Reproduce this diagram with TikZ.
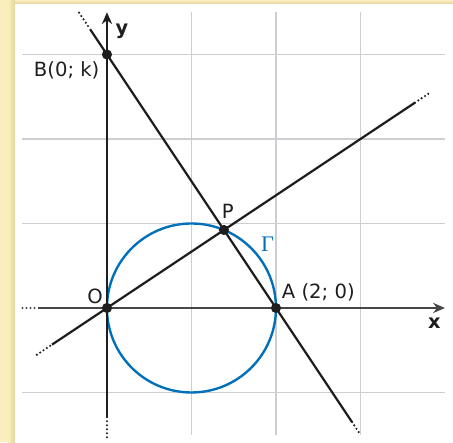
\documentclass[tikz,border=0pt]{standalone}
\usepackage{fontspec}
\setmainfont{DejaVu Sans}
\newfontfamily\greekserif{Liberation Serif}
\usepackage{xcolor}
\definecolor{paper}{RGB}{250,238,188}
\definecolor{paperdark}{RGB}{228,212,158}
\definecolor{gridgrey}{RGB}{205,205,210}
\definecolor{axisgrey}{RGB}{70,70,70}
\definecolor{coal}{RGB}{30,30,30}
\definecolor{circblue}{RGB}{0,112,186}
\usetikzlibrary{arrows.meta,positioning}

\begin{document}
\begin{tikzpicture}[
  gridline/.style={draw=gridgrey,line width=0.4pt},
  xaxis/.style={draw=axisgrey,line width=0.7pt},
  yaxis/.style={draw=coal,line width=0.7pt},
  secant/.style={draw=coal,line width=0.75pt},
  ext/.style={line width=0.8pt,line cap=round,dash pattern=on 0pt off 1.35pt},
  tip/.style={-{Stealth[length=1.4mm,width=1.2mm]}},
  pt/.style={circle,fill=coal,inner sep=0pt,minimum size=0.12cm},
  lbl/.style={inner sep=0pt,font=\fontsize{6.6}{8}\selectfont\color{coal}},
  axlbl/.style={inner sep=0pt,font=\fontsize{6.5}{8}\selectfont\bfseries\color{coal}},
]
  % page and panel
  \useasboundingbox (-1.266,-1.586) rectangle (4.095,3.645);
  \fill[paper] (-1.266,-1.586) rectangle (4.095,3.645);
  \shade[left color=paper,right color=paperdark] (-1.17,-1.586) rectangle (-1.089,3.645);
  \shade[top color=paper,bottom color=paperdark] (-1.089,3.645) rectangle (4.095,3.598);
  \fill[white] (-1.089,-1.586) rectangle (4.095,3.598);

  % grid
  \foreach \gx in {1,2,3}
    \draw[gridline] (\gx,-1.5) -- (\gx,3.5);
  \foreach \gy in {-1,1,2,3}
    \draw[gridline] (-1,\gy) -- (4,\gy);

  % circle
  \coordinate (C) at (1,0);
  \draw[circblue,line width=0.8pt] (C) circle (1);

  % axes
  \coordinate (xl) at (-1,0);
  \coordinate (xs) at (-0.82,0);
  \coordinate (xr) at (4,0);
  \coordinate (yb) at (0,-1.53);
  \coordinate (ys) at (0,-1.29);
  \coordinate (yt) at (0,3.5);
  \draw[xaxis,ext] (xl) -- (xs);
  \draw[xaxis,tip] (xs) -- (xr);
  \draw[yaxis,ext] (yb) -- (ys);
  \draw[yaxis,tip] (ys) -- (yt);

  % points
  \coordinate (O) at (0,0);
  \coordinate (A) at (2,0);
  \coordinate (B) at (0,3);
  \coordinate (P) at (1.3846,0.9231);

  % line OP
  \coordinate (u0) at (-0.83,-0.5533);
  \coordinate (u1) at (-0.65,-0.4333);
  \coordinate (u2) at (3.645,2.43);
  \coordinate (u3) at (3.82,2.5467);
  \draw[secant,ext] (u0) -- (u1);
  \draw[secant] (u1) -- (O) -- (P) -- (u2);
  \draw[secant,ext] (u2) -- (u3);

  % line AB
  \coordinate (v0) at (-0.33,3.495);
  \coordinate (v1) at (-0.2,3.3);
  \coordinate (v2) at (2.9,-1.35);
  \coordinate (v3) at (2.99,-1.485);
  \draw[secant,ext] (v0) -- (v1);
  \draw[secant] (v1) -- (B) -- (P) -- (A) -- (v2);
  \draw[secant,ext] (v2) -- (v3);

  \node[pt] (Odot) at (O) {};
  \node[pt] (Adot) at (A) {};
  \node[pt] (Bdot) at (B) {};
  \node[pt] (Pdot) at (P) {};

  % labels
  \node[lbl] (Olab) at ([shift={(-0.142,0.136)}]O) {O};
  \node[lbl,anchor=base west] (Alab) at ([shift={(0.064,0.115)}]A) {A (2; 0)};
  \node[lbl,anchor=base east] (Blab) at ([shift={(-0.083,-0.266)}]B) {B(0; k)};
  \node[lbl] (Plab) at ([shift={(0.045,0.217)}]P) {P};
  \node[font=\fontsize{7.5}{8}\selectfont\greekserif\color{circblue},inner sep=0pt] (Gam) at (1.90,0.75) {Γ};
  \node[axlbl,anchor=base west] (ylab) at ([shift={(0.095,0.24)}]B) {y};
  \node[axlbl,anchor=base west] (xlab) at ([shift={(-0.206,-0.24)}]xr) {x};
\end{tikzpicture}
\end{document}
